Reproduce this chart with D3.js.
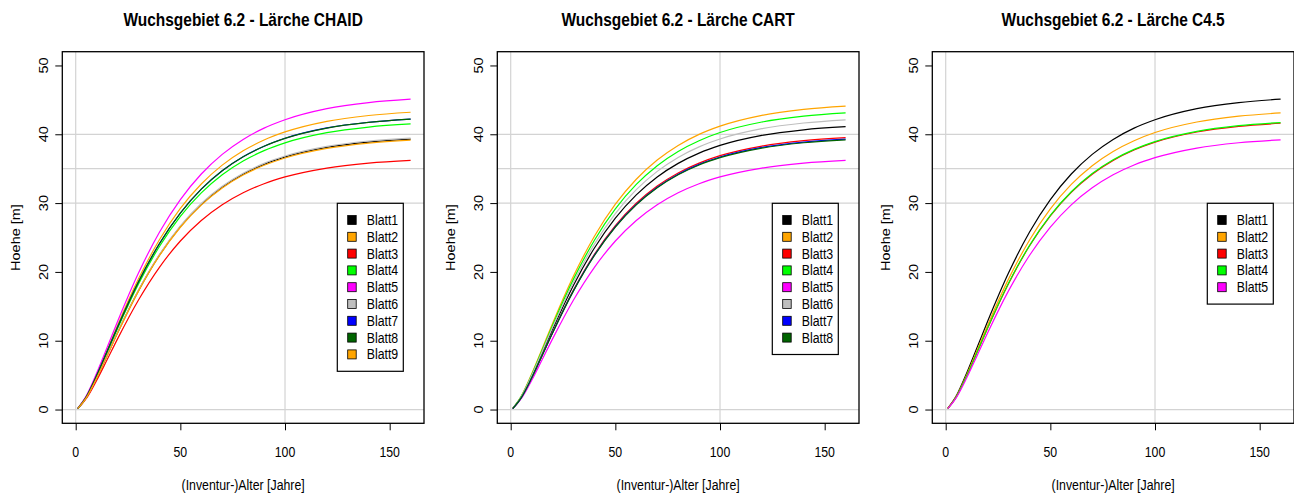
<!DOCTYPE html>
<html>
<head>
<meta charset="utf-8">
<script src="https://cdn.jsdelivr.net/npm/d3@7"></script>
<style>
  html, body { margin: 0; padding: 0; background: #ffffff; }
  svg { display: block; }
  text { font-family: "Liberation Sans", Arial, sans-serif; fill: #000; }
</style>
</head>
<body>
<svg id="chart" width="1294" height="496"></svg>
<script>
// ---------- data ----------
const ages = [1, 5, 10, 15, 20, 30, 40, 50, 60, 70, 80, 90, 100, 120, 140, 160];
const xTicks = [0, 50, 100, 150];
const yTicks = [0, 10, 20, 30, 40, 50];
const hGridValues = [0, 30, 35, 40];
const vGridValues = [0, 100];
const titles = ["Wuchsgebiet 6.2 - Lärche CHAID", "Wuchsgebiet 6.2 - Lärche CART", "Wuchsgebiet 6.2 - Lärche C4.5"];
const xTitle = "(Inventur-)Alter [Jahre]";
const yTitle = "Hoehe [m]";

// CHAID
const chaidLabels = ["Blatt1", "Blatt2", "Blatt3", "Blatt4", "Blatt5", "Blatt6", "Blatt7", "Blatt8", "Blatt9"];
const chaidBlatt1 = [0.14, 1.70, 4.59, 7.85, 11.15, 17.28, 22.44, 26.59, 29.82, 32.31, 34.20, 35.63, 36.70, 38.10, 38.87, 39.30];
const chaidBlatt2 = [0.16, 1.87, 5.05, 8.63, 12.26, 18.99, 24.67, 29.23, 32.78, 35.52, 37.60, 39.17, 40.34, 41.88, 42.73, 43.20];
const chaidBlatt3 = [0.13, 1.57, 4.23, 7.23, 10.27, 15.92, 20.67, 24.49, 27.47, 29.76, 31.50, 32.82, 33.80, 35.09, 35.81, 36.20];
const chaidBlatt4 = [0.15, 1.80, 4.85, 8.29, 11.77, 18.25, 23.70, 28.08, 31.49, 34.12, 36.12, 37.62, 38.75, 40.23, 41.05, 41.50];
const chaidBlatt5 = [0.16, 1.95, 5.27, 9.01, 12.79, 19.83, 25.76, 30.51, 34.23, 37.08, 39.25, 40.89, 42.11, 43.72, 44.61, 45.10];
const chaidBlatt6 = [0.14, 1.71, 4.61, 7.88, 11.19, 17.35, 22.53, 26.69, 29.94, 32.44, 34.33, 35.77, 36.84, 38.24, 39.02, 39.45];
const chaidBlatt7 = [0.15, 1.83, 4.93, 8.43, 11.98, 18.56, 24.11, 28.56, 32.04, 34.71, 36.74, 38.27, 39.42, 40.92, 41.75, 42.21];
const chaidBlatt8 = [0.15, 1.83, 4.93, 8.43, 11.97, 18.55, 24.10, 28.55, 32.02, 34.69, 36.72, 38.25, 39.40, 40.90, 41.73, 42.19];
const chaidBlatt9 = [0.14, 1.70, 4.57, 7.82, 11.11, 17.21, 22.36, 26.49, 29.71, 32.19, 34.07, 35.49, 36.56, 37.95, 38.72, 39.15];

// CART
const cartLabels = ["Blatt1", "Blatt2", "Blatt3", "Blatt4", "Blatt5", "Blatt6", "Blatt7", "Blatt8"];
const cartBlatt1 = [0.15, 1.78, 4.80, 8.21, 11.66, 18.07, 23.47, 27.81, 31.19, 33.79, 35.77, 37.26, 38.38, 39.84, 40.65, 41.10];
const cartBlatt2 = [0.16, 1.91, 5.15, 8.81, 12.51, 19.39, 25.19, 29.84, 33.47, 36.26, 38.38, 39.98, 41.18, 42.75, 43.62, 44.10];
const cartBlatt3 = [0.14, 1.71, 4.61, 7.89, 11.21, 17.37, 22.56, 26.73, 29.98, 32.48, 34.38, 35.81, 36.89, 38.29, 39.07, 39.50];
const cartBlatt4 = [0.16, 1.87, 5.03, 8.61, 12.23, 18.95, 24.61, 29.16, 32.71, 35.44, 37.51, 39.07, 40.25, 41.78, 42.63, 43.10];
const cartBlatt5 = [0.13, 1.57, 4.23, 7.23, 10.27, 15.92, 20.67, 24.49, 27.47, 29.76, 31.50, 32.82, 33.80, 35.09, 35.81, 36.20];
const cartBlatt6 = [0.15, 1.82, 4.92, 8.41, 11.94, 18.51, 24.04, 28.48, 31.95, 34.61, 36.64, 38.17, 39.31, 40.81, 41.64, 42.10];
const cartBlatt7 = [0.14, 1.70, 4.59, 7.85, 11.15, 17.28, 22.44, 26.59, 29.82, 32.31, 34.20, 35.63, 36.70, 38.10, 38.87, 39.30];
const cartBlatt8 = [0.14, 1.70, 4.58, 7.83, 11.12, 17.24, 22.39, 26.52, 29.75, 32.23, 34.12, 35.54, 36.60, 38.00, 38.77, 39.20];

// C4.5
const c45Labels = ["Blatt1", "Blatt2", "Blatt3", "Blatt4", "Blatt5"];
const c45Blatt1 = [0.16, 1.95, 5.27, 9.01, 12.79, 19.83, 25.76, 30.51, 34.23, 37.08, 39.25, 40.89, 42.11, 43.72, 44.61, 45.10];
const c45Blatt2 = [0.16, 1.87, 5.03, 8.61, 12.23, 18.95, 24.61, 29.16, 32.71, 35.44, 37.51, 39.07, 40.25, 41.78, 42.63, 43.10];
const c45Blatt3 = [0.15, 1.80, 4.86, 8.31, 11.80, 18.29, 23.76, 28.15, 31.57, 34.20, 36.20, 37.71, 38.85, 40.33, 41.15, 41.60];
const c45Blatt4 = [0.15, 1.81, 4.87, 8.33, 11.83, 18.34, 23.82, 28.21, 31.65, 34.29, 36.29, 37.81, 38.94, 40.42, 41.25, 41.70];
const c45Blatt5 = [0.14, 1.70, 4.58, 7.83, 11.12, 17.24, 22.39, 26.52, 29.75, 32.23, 34.12, 35.54, 36.60, 38.00, 38.77, 39.20];

// colours (R palette)
const chaidColors = ["#000000", "#FFA500", "#FF0000", "#00FF00", "#FF00FF", "#BEBEBE", "#0000FF", "#006400", "#FFA500"];
const cartColors  = ["#000000", "#FFA500", "#FF0000", "#00FF00", "#FF00FF", "#BEBEBE", "#0000FF", "#006400"];
const c45Colors   = ["#000000", "#FFA500", "#FF0000", "#00FF00", "#FF00FF"];

const panels = [
  { title: titles[0], labels: chaidLabels, colors: chaidColors,
    series: [chaidBlatt1, chaidBlatt2, chaidBlatt3, chaidBlatt4, chaidBlatt5, chaidBlatt6, chaidBlatt7, chaidBlatt8, chaidBlatt9] },
  { title: titles[1], labels: cartLabels, colors: cartColors,
    series: [cartBlatt1, cartBlatt2, cartBlatt3, cartBlatt4, cartBlatt5, cartBlatt6, cartBlatt7, cartBlatt8] },
  { title: titles[2], labels: c45Labels, colors: c45Colors,
    series: [c45Blatt1, c45Blatt2, c45Blatt3, c45Blatt4, c45Blatt5] }
];

// ---------- layout ----------
const svg = d3.select("#chart");
const panelStep = 435;
const boxLeft0 = 62.3, boxW = 361.7, boxTop = 51.7, boxBottom = 423.3;
const sx = 0.85; // horizontal squeeze of text as in the reference
const fs = 14.5;

function hText(g, x, y, str, opts = {}) {
  return g.append("text")
    .attr("transform", `translate(${x},${y}) scale(${sx},1)`)
    .attr("text-anchor", opts.anchor || "middle")
    .style("font-size", (opts.size || fs) + "px")
    .style("font-weight", opts.weight || "normal")
    .text(str);
}
function vText(g, x, y, str, opts = {}) {
  return g.append("text")
    .attr("transform", `translate(${x},${y}) scale(${sx},1) rotate(-90)`)
    .attr("text-anchor", "middle")
    .style("font-size", (opts.size || fs) + "px")
    .text(str);
}

panels.forEach((p, i) => {
  const left = boxLeft0 + i * panelStep;
  const right = left + boxW;
  const g = svg.append("g");

  const x = d3.scaleLinear().domain([-6.4, 166.4]).range([left, right]);
  const y = d3.scaleLinear().domain([-2, 52]).range([boxBottom, boxTop]);

  // grid
  g.selectAll(".hg").data(hGridValues).enter().append("line")
    .attr("x1", left).attr("x2", right)
    .attr("y1", d => y(d)).attr("y2", d => y(d))
    .attr("stroke", "#d3d3d3").attr("stroke-width", 1.2);
  g.selectAll(".vg").data(vGridValues).enter().append("line")
    .attr("x1", d => x(d)).attr("x2", d => x(d))
    .attr("y1", boxTop).attr("y2", boxBottom)
    .attr("stroke", "#d3d3d3").attr("stroke-width", 1.2);

  // curves
  const line = d3.line()
    .x((d, k) => x(ages[k]))
    .y(d => y(d))
    .curve(d3.curveMonotoneX);
  p.series.forEach((s, k) => {
    g.append("path").datum(s)
      .attr("d", line)
      .attr("fill", "none")
      .attr("stroke", p.colors[k])
      .attr("stroke-width", 1.2);
  });

  // box
  g.append("rect")
    .attr("x", left).attr("y", boxTop)
    .attr("width", boxW).attr("height", boxBottom - boxTop)
    .attr("fill", "none").attr("stroke", "#000").attr("stroke-width", 1.3);

  // axes (R style)
  const xAxis = d3.axisBottom(x).tickValues(xTicks).tickSize(7).tickFormat("");
  const xg = g.append("g").attr("transform", `translate(0,${boxBottom})`).call(xAxis);
  xg.select(".domain").remove();
  xg.selectAll("line").attr("stroke", "#000");
  xTicks.forEach(t => hText(g, x(t), boxBottom + 33.7, String(t)));

  const yAxis = d3.axisLeft(y).tickValues(yTicks).tickSize(7).tickFormat("");
  const yg = g.append("g").attr("transform", `translate(${left},0)`).call(yAxis);
  yg.select(".domain").remove();
  yg.selectAll("line").attr("stroke", "#000");
  yTicks.forEach(t => vText(g, left - 14.5, y(t), String(t)));

  // titles
  hText(g, (left + right) / 2, 26, p.title, { size: 18.2, weight: "bold" });
  hText(g, (left + right) / 2, 490, xTitle);
  vText(g, left - 42, (boxTop + boxBottom) / 2, yTitle);

  // legend
  const lgRight = right - 20.7;
  const lgLeft = lgRight - 66;
  const lgTop = 203.3;
  const step = 16.8;
  const lgH = step * p.labels.length + 16.8;
  g.append("rect")
    .attr("x", lgLeft).attr("y", lgTop)
    .attr("width", lgRight - lgLeft).attr("height", lgH)
    .attr("fill", "#fff").attr("stroke", "#000").attr("stroke-width", 1.2);
  p.labels.forEach((lab, k) => {
    const cy = lgTop + 16.7 + k * step;
    g.append("rect")
      .attr("x", lgLeft + 10.4).attr("y", cy - 4.5)
      .attr("width", 8.5).attr("height", 9)
      .attr("fill", p.colors[k]).attr("stroke", "#000").attr("stroke-width", 0.8);
    hText(g, lgLeft + 29.4, cy + 5, lab, { anchor: "start" });
  });
});
</script>
</body>
</html>
